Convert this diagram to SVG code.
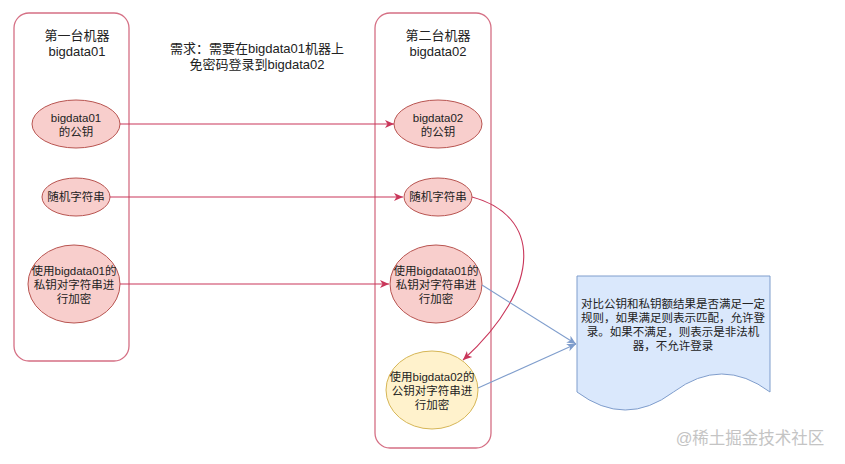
<svg xmlns="http://www.w3.org/2000/svg" width="845" height="464" viewBox="0 0 845 464">
<style>
text{font-family:"Liberation Sans","Noto Sans CJK SC",sans-serif;fill:#222;text-anchor:middle}
.title{font-size:13px}
.lbl{font-size:11.5px}
.box{fill:#fff;stroke:#d56f84;stroke-width:1.3}
.red{fill:#f8cecc;stroke:#b85450;stroke-width:1}
.yel{fill:#fff2cc;stroke:#d6b656;stroke-width:1}
.rc{fill:none;stroke:#c9365a;stroke-width:1.1}
.bc{fill:none;stroke:#7f9dcc;stroke-width:1.1}
</style>
<defs>
<marker id="ar" markerWidth="10" markerHeight="10" refX="9" refY="5" orient="auto" markerUnits="userSpaceOnUse">
<path d="M0,1 L9,5 L0,9 L2.5,5 Z" fill="#c9365a"/>
</marker>
<marker id="ab" markerWidth="10" markerHeight="10" refX="9" refY="5" orient="auto" markerUnits="userSpaceOnUse">
<path d="M0,1 L9,5 L0,9 L2.5,5 Z" fill="#7f9dcc"/>
</marker>
</defs>
<rect width="845" height="464" fill="#fff"/>
<g id="machine1">
<rect class="box" x="14" y="13" width="115" height="348" rx="15"/>
<text class="title" x="77" y="40">第一台机器</text>
<text class="title" x="77" y="56">bigdata01</text>
</g>
<g id="machine2">
<rect class="box" x="375" y="13" width="116" height="435" rx="15"/>
<text class="title" x="438" y="40">第二台机器</text>
<text class="title" x="438" y="56">bigdata02</text>
</g>
<g id="requirement">
<text class="title" x="257" y="53">需求：需要在bigdata01机器上</text>
<text class="title" x="257" y="69">免密码登录到bigdata02</text>
</g>
<g id="pub01">
<ellipse class="red" cx="76" cy="124" rx="44" ry="24"/>
<text class="lbl" x="76" y="122">bigdata01</text>
<text class="lbl" x="76" y="136">的公钥</text>
</g>
<g id="rand01">
<ellipse class="red" cx="76" cy="197" rx="34" ry="19"/>
<text class="lbl" x="76" y="201">随机字符串</text>
</g>
<g id="enc01">
<ellipse class="red" cx="74" cy="284" rx="46" ry="39"/>
<text class="lbl" x="74" y="275">使用bigdata01的</text>
<text class="lbl" x="74" y="289">私钥对字符串进</text>
<text class="lbl" x="74" y="303">行加密</text>
</g>
<g id="pub02">
<ellipse class="red" cx="438" cy="124" rx="44" ry="24"/>
<text class="lbl" x="438" y="122">bigdata02</text>
<text class="lbl" x="438" y="136">的公钥</text>
</g>
<g id="rand02">
<ellipse class="red" cx="438" cy="197" rx="34" ry="19"/>
<text class="lbl" x="438" y="201">随机字符串</text>
</g>
<g id="enc01copy">
<ellipse class="red" cx="436" cy="284" rx="46" ry="39"/>
<text class="lbl" x="436" y="275">使用bigdata01的</text>
<text class="lbl" x="436" y="289">私钥对字符串进</text>
<text class="lbl" x="436" y="303">行加密</text>
</g>
<g id="enc02">
<ellipse class="yel" cx="432" cy="390" rx="46" ry="39"/>
<text class="lbl" x="432" y="381">使用bigdata02的</text>
<text class="lbl" x="432" y="395">公钥对字符串进</text>
<text class="lbl" x="432" y="409">行加密</text>
</g>
<g id="result">
<path d="M577,276 H770 V392 Q721.75,356 673.5,392 Q625.25,428 577,392 Z" fill="#dae8fc" stroke="#7f9dcc" stroke-width="1"/>
<text class="lbl" x="673" y="308">对比公钥和私钥额结果是否满足一定</text>
<text class="lbl" x="673" y="322">规则，如果满足则表示匹配，允许登</text>
<text class="lbl" x="673" y="336">录。如果不满足，则表示是非法机</text>
<text class="lbl" x="673" y="350">器，不允许登录</text>
</g>
<g id="connectors">
<line class="rc" x1="120" y1="124" x2="394" y2="124" marker-end="url(#ar)"/>
<line class="rc" x1="110" y1="197" x2="403" y2="197" marker-end="url(#ar)"/>
<line class="rc" x1="120" y1="284" x2="389" y2="284" marker-end="url(#ar)"/>
<path class="rc" d="M472,197 C540,215 545,285 463,360" marker-end="url(#ar)"/>
<line class="bc" x1="482" y1="285" x2="576" y2="344" marker-end="url(#ab)"/>
<line class="bc" x1="478" y1="388" x2="576" y2="344" marker-end="url(#ab)"/>
</g>
<text x="750" y="444" style="font-size:16.5px;fill:#c4c4c4">@稀土掘金技术社区</text>
</svg>
